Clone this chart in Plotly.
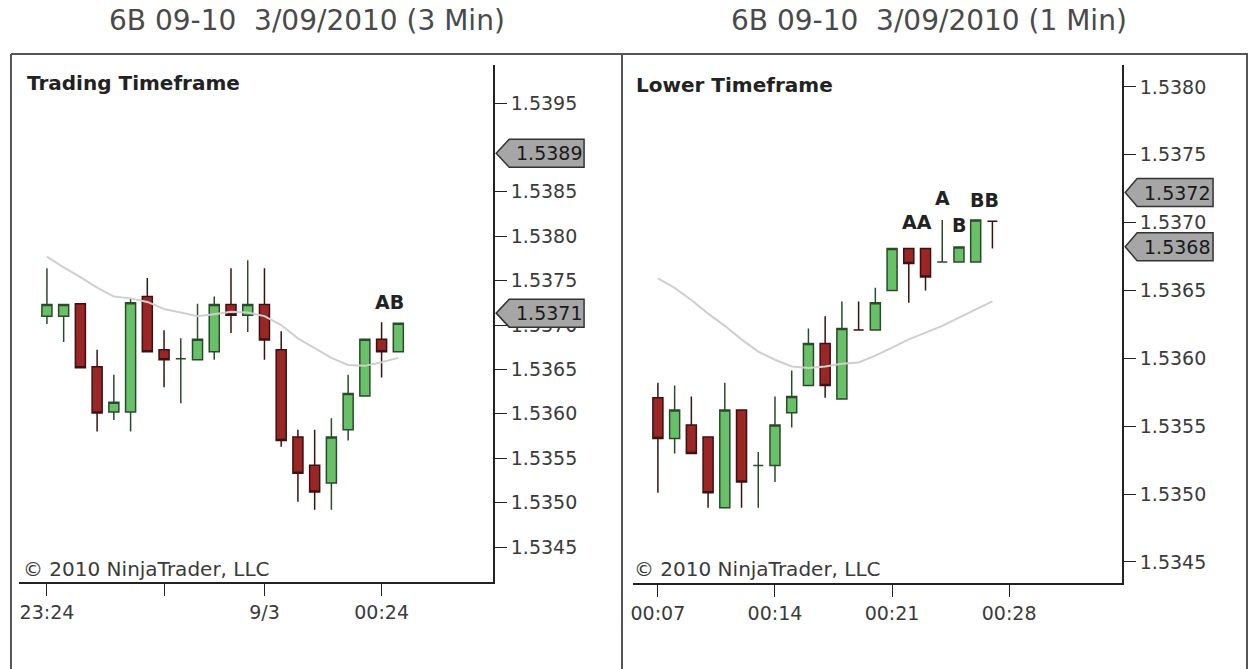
import plotly.graph_objects as go

# ---------------- data ----------------
left_title = "6B 09-10  3/09/2010 (3 Min)"
right_title = "6B 09-10  3/09/2010 (1 Min)"

left_open  = [1.53710, 1.53710, 1.53724, 1.53653, 1.53602, 1.53602, 1.53732, 1.53672, 1.53662, 1.53661, 1.53670,
              1.53723, 1.53711, 1.53723, 1.53672, 1.53574, 1.53542, 1.53522, 1.53582, 1.53620, 1.53684, 1.53670]
left_high  = [1.53764, 1.53723, 1.53724, 1.53672, 1.53644, 1.53730, 1.53753, 1.53694, 1.53685, 1.53724, 1.53732,
              1.53764, 1.53773, 1.53764, 1.53693, 1.53582, 1.53582, 1.53595, 1.53644, 1.53684, 1.53703, 1.53702]
left_low   = [1.53701, 1.53681, 1.53652, 1.53580, 1.53593, 1.53580, 1.53670, 1.53630, 1.53612, 1.53661, 1.53661,
              1.53691, 1.53692, 1.53661, 1.53563, 1.53501, 1.53492, 1.53492, 1.53570, 1.53620, 1.53641, 1.53670]
left_close = [1.53723, 1.53723, 1.53652, 1.53601, 1.53613, 1.53725, 1.53670, 1.53661, 1.53662, 1.53684, 1.53723,
              1.53711, 1.53723, 1.53683, 1.53570, 1.53533, 1.53512, 1.53574, 1.53623, 1.53684, 1.53670, 1.53702]
left_ma    = [1.53777, 1.53765, 1.53754, 1.53742, 1.53732, 1.53730, 1.53726, 1.53718, 1.53714, 1.53710, 1.53712,
              1.53715, 1.53714, 1.53710, 1.53700, 1.53685, 1.53674, 1.53663, 1.53655, 1.53654, 1.53658, 1.53663]
left_xticks = [0, 7, 13, 20]
left_xticklabels = ["23:24", "", "9/3", "00:24"]
left_yticks = [1.5345, 1.5350, 1.5355, 1.5360, 1.5365, 1.5370, 1.5375, 1.5380, 1.5385, 1.5395]
left_tags = [1.5389, 1.5371]
left_marks = ["AB"]
left_mark_x = [20.5]
left_mark_y = [1.53726]

right_open  = [1.53571, 1.53541, 1.53551, 1.53542, 1.53490, 1.53562, 1.53521, 1.53521, 1.53560, 1.53580, 1.53611,
               1.53570, 1.53621, 1.53621, 1.53650, 1.53681, 1.53681, 1.53671, 1.53671, 1.53671, 1.53701]
right_high  = [1.53582, 1.53580, 1.53572, 1.53542, 1.53582, 1.53562, 1.53531, 1.53572, 1.53591, 1.53622, 1.53631,
               1.53642, 1.53642, 1.53652, 1.53681, 1.53681, 1.53681, 1.53702, 1.53682, 1.53702, 1.53701]
right_low   = [1.53501, 1.53530, 1.53530, 1.53490, 1.53490, 1.53490, 1.53490, 1.53509, 1.53549, 1.53580, 1.53571,
               1.53570, 1.53621, 1.53621, 1.53650, 1.53641, 1.53650, 1.53671, 1.53671, 1.53671, 1.53681]
right_close = [1.53541, 1.53562, 1.53530, 1.53501, 1.53562, 1.53509, 1.53521, 1.53551, 1.53572, 1.53611, 1.53580,
               1.53622, 1.53621, 1.53641, 1.53681, 1.53670, 1.53660, 1.53671, 1.53682, 1.53702, 1.53701]
right_ma    = [1.53659, 1.53652, 1.53643, 1.53633, 1.53624, 1.53614, 1.53605, 1.53599, 1.53594, 1.53593, 1.53594,
               1.53596, 1.53597, 1.53602, 1.53608, 1.53614, 1.53619, 1.53624, 1.53630, 1.53636, 1.53642]
right_xticks = [0, 7, 14, 21]
right_xticklabels = ["00:07", "00:14", "00:21", "00:28"]
right_yticks = [1.5345, 1.5350, 1.5355, 1.5360, 1.5365, 1.5370, 1.5375, 1.5380]
right_tags = [1.5372, 1.5368]
right_marks = ["AA", "A", "B", "BB"]
right_mark_x = [15.5, 17, 18, 19.5]
right_mark_y = [1.537005, 1.537182, 1.536983, 1.537167]

# ---------------- layout helpers ----------------
W, H = 1250, 669
FONT = "DejaVu Sans"
TXT = "#3a3a3a"


def px(x):
    return x / W


def py(y):
    return 1 - y / H


GREEN_FILL = "#68c068"
GREEN_LINE = "#2b4a2b"
RED_FILL = "#9a2626"
RED_LINE = "#3a1212"
MA_COLOR = "#cfcfcf"

fig = go.Figure()


def add_panel(xs, o, h, l, c, ma, xa, ya):
    fig.add_trace(go.Scatter(x=xs, y=ma, mode="lines", line=dict(color=MA_COLOR, width=2),
                             xaxis=xa, yaxis=ya, hoverinfo="skip"))
    fig.add_trace(go.Candlestick(
        x=xs, open=o, high=h, low=l, close=c, xaxis=xa, yaxis=ya,
        increasing=dict(line=dict(color=GREEN_LINE, width=1.5), fillcolor=GREEN_FILL),
        decreasing=dict(line=dict(color=RED_LINE, width=1.5), fillcolor=RED_FILL),
        whiskerwidth=0,
    ))


left_x = list(range(len(left_open)))
right_x = list(range(len(right_open)))
add_panel(left_x, left_open, left_high, left_low, left_close, left_ma, "x", "y")
add_panel(right_x, right_open, right_high, right_low, right_close, right_ma, "x2", "y2")

axis_common = dict(showgrid=False, zeroline=False, showline=True, linecolor="#222222", linewidth=1.5,
                   ticks="outside", tickcolor="#222222", tickwidth=1.2, ticklen=12,
                   tickfont=dict(family=FONT, size=19, color=TXT), fixedrange=True)

fig.update_layout(
    width=W, height=H, margin=dict(l=0, r=0, t=0, b=0), autosize=False,
    paper_bgcolor="white", plot_bgcolor="white", showlegend=False,
    boxgap=0.2, boxgroupgap=0.25,
    xaxis=dict(domain=[px(17), px(492)], range=[-1.67, 26.67], anchor="y",
               tickvals=left_xticks, ticktext=left_xticklabels, rangeslider=dict(visible=False),
               **axis_common),
    yaxis=dict(domain=[py(582), py(65)], range=[1.534106, 1.539928], anchor="x", side="right",
               tickvals=left_yticks, tickformat=".4f", **axis_common),
    xaxis2=dict(domain=[px(632), px(1122)], range=[-1.49, 27.76], anchor="y2",
                tickvals=right_xticks, ticktext=right_xticklabels, rangeslider=dict(visible=False),
                **axis_common),
    yaxis2=dict(domain=[py(583), py(65)], range=[1.534345, 1.538162], anchor="x2", side="right",
                tickvals=right_yticks, tickformat=".4f", **axis_common),
)

shapes = []
annotations = []

# panel frames
frame = dict(color="#555555", width=2)
shapes.append(dict(type="line", xref="paper", yref="paper", x0=px(9), x1=px(1248), y0=py(54), y1=py(54), line=frame))
for xv in (9, 621, 1247):
    shapes.append(dict(type="line", xref="paper", yref="paper", x0=px(xv), x1=px(xv), y0=py(54), y1=0, line=frame))

# titles
annotations.append(dict(text=left_title, x=px(305), y=py(21), xref="paper", yref="paper", showarrow=False,
                        xanchor="center", yanchor="middle", font=dict(family=FONT, size=28, color="#4a4a4a")))
annotations.append(dict(text=right_title, x=px(928), y=py(21), xref="paper", yref="paper", showarrow=False,
                        xanchor="center", yanchor="middle", font=dict(family=FONT, size=28, color="#4a4a4a")))

# panel labels
annotations.append(dict(text="<b>Trading Timeframe</b>", x=px(23), y=py(83), xref="paper", yref="paper",
                        showarrow=False, xanchor="left", yanchor="middle",
                        font=dict(family=FONT, size=20, color="#222222")))
annotations.append(dict(text="<b>Lower Timeframe</b>", x=px(633), y=py(85), xref="paper", yref="paper",
                        showarrow=False, xanchor="left", yanchor="middle",
                        font=dict(family=FONT, size=20, color="#222222")))
for xl in (19, 631):
    annotations.append(dict(text="© 2010 NinjaTrader, LLC", x=px(xl), y=py(569), xref="paper", yref="paper",
                            showarrow=False, xanchor="left", yanchor="middle",
                            font=dict(family=FONT, size=20, color=TXT)))

# bar markers
for t, xv, yv in zip(left_marks, left_mark_x, left_mark_y):
    annotations.append(dict(text=f"<b>{t}</b>", x=xv, y=yv, xref="x", yref="y", showarrow=False,
                            font=dict(family=FONT, size=19, color="#222222")))
for t, xv, yv in zip(right_marks, right_mark_x, right_mark_y):
    annotations.append(dict(text=f"<b>{t}</b>", x=xv, y=yv, xref="x2", yref="y2", showarrow=False,
                            font=dict(family=FONT, size=19, color="#222222")))


# price tags (drawn slightly above their value, as in the reference)
def add_tags(vals, yref, x_tip, x_l, x_r, unit):
    half = 14 * unit
    lift = 3 * unit
    for v in vals:
        c = v + lift
        path = (f"M {px(x_tip)},{c} L {px(x_l)},{c + half} L {px(x_r)},{c + half} "
                f"L {px(x_r)},{c - half} L {px(x_l)},{c - half} Z")
        shapes.append(dict(type="path", xref="paper", yref=yref, path=path, fillcolor="#a6a6a6",
                           line=dict(color="#333333", width=1.5), layer="above"))
        annotations.append(dict(text=f"{v:.4f}", x=px((x_l + x_r) / 2 + 2), y=c, xref="paper", yref=yref,
                                showarrow=False, xanchor="center", yanchor="middle",
                                font=dict(family=FONT, size=19, color="#1a1a1a")))


add_tags(left_tags, "y", 495, 508, 583, 0.0001 / 8.88)
add_tags(right_tags, "y2", 1125, 1137, 1213, 0.0001 / 13.57)

fig.update_layout(shapes=shapes, annotations=annotations)
fig.write_html("out.html", config={"displayModeBar": False},
               post_script="document.body.style.margin='0';document.body.style.overflow='hidden';")
